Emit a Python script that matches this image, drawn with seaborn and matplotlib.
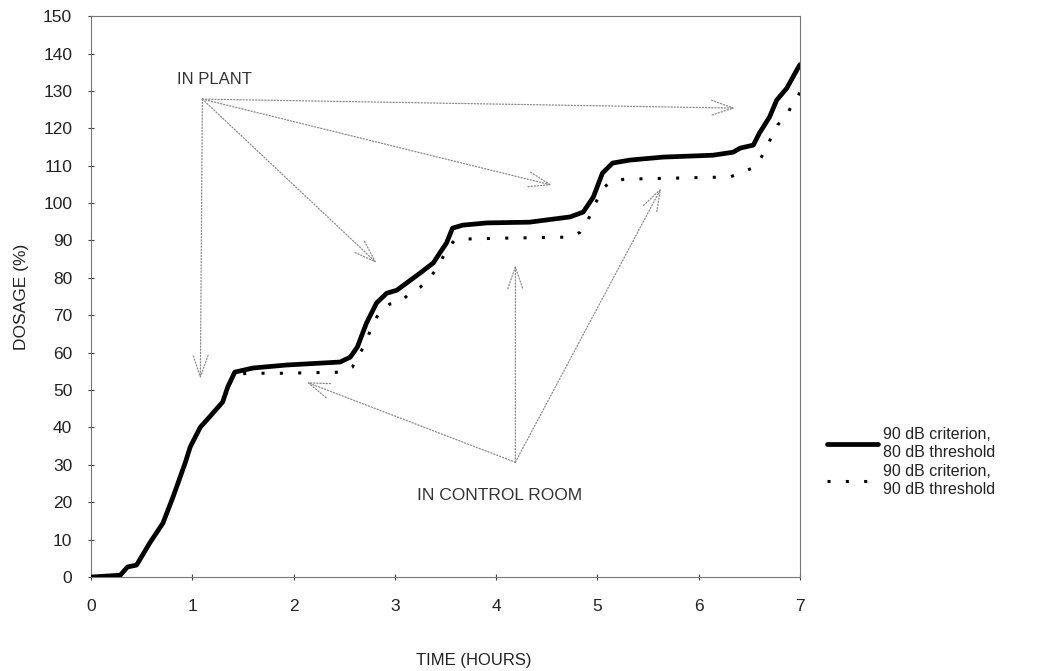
import numpy as np
import pandas as pd
import matplotlib
matplotlib.use('Agg')
import matplotlib.pyplot as plt
import seaborn as sns

# time (hours) and dosage (%)
t_80 = [0, 0.29, 0.36, 0.45, 0.58, 0.71, 0.81, 0.93, 0.98, 1.08, 1.17, 1.30, 1.35, 1.42,
        1.60, 1.93, 2.46, 2.56, 2.63, 2.72, 2.82, 2.92, 3.02, 3.25, 3.38, 3.45, 3.51, 3.57,
        3.67, 3.91, 4.33, 4.73, 4.86, 4.96, 5.05, 5.15, 5.32, 5.65, 6.14, 6.34, 6.41, 6.54,
        6.60, 6.70, 6.77, 6.87, 6.97, 7.0]
d_80 = [0, 0.5, 2.7, 3.2, 9.1, 14.4, 21.4, 30.5, 34.8, 40.1, 42.8, 46.8, 50.8, 54.8,
        55.9, 56.7, 57.5, 58.8, 61.5, 67.9, 73.3, 75.9, 76.7, 81.3, 84.0, 86.9, 89.3, 93.3,
        94.1, 94.7, 94.9, 96.3, 97.6, 101.6, 108.0, 110.7, 111.5, 112.3, 112.8, 113.6, 114.7, 115.5,
        118.7, 123.0, 127.5, 130.7, 135.6, 137.0]

t_90 = [0, 0.29, 0.36, 0.45, 0.58, 0.71, 0.81, 0.93, 0.98, 1.08, 1.17, 1.30, 1.35, 1.42,
        1.60, 1.90, 2.48, 2.58, 2.69, 2.79, 2.85, 2.95, 3.05, 3.15, 3.25, 3.33, 3.40, 3.46,
        3.51, 3.59, 3.72, 4.02, 4.73, 4.83, 4.90, 4.96, 5.00, 5.07, 5.15, 5.29, 6.31, 6.44,
        6.55, 6.62, 6.67, 6.73, 6.78, 6.87, 6.93, 7.0]
d_90 = [0, 0.5, 2.7, 3.2, 9.1, 14.4, 21.4, 30.5, 34.8, 40.1, 42.8, 46.8, 50.8, 54.3,
        54.5, 54.5, 54.8, 56.1, 61.5, 67.9, 70.9, 73.0, 73.5, 75.9, 77.5, 79.4, 82.0, 84.8,
        87.4, 90.1, 90.4, 90.6, 90.9, 92.2, 95.0, 98.7, 101.0, 104.3, 106.1, 106.4, 107.0, 108.3,
        109.6, 112.3, 115.0, 118.2, 120.9, 123.5, 126.7, 129.5]

x_ticks = [0, 1, 2, 3, 4, 5, 6, 7]
y_ticks = list(range(0, 151, 10))

label_80 = '90 dB criterion,\n80 dB threshold'
label_90 = '90 dB criterion,\n90 dB threshold'

# annotation groups: text, text position, arrow origin, arrow tips
plant_text = 'IN PLANT'
plant_text_xy = (1.22, 133.0)
plant_origin = (1.10, 127.8)
plant_tips = [(1.08, 53.0), (6.36, 125.4), (4.55, 104.8), (2.82, 84.0)]

room_text = 'IN CONTROL ROOM'
room_text_xy = (4.03, 21.9)
room_origin = (4.19, 30.7)
room_tips = [(2.13, 52.1), (4.19, 83.4), (5.63, 104.0)]

sns.set_theme(style='white')
plt.rcParams['font.family'] = ['Liberation Sans', 'DejaVu Sans']

fig = plt.figure(figsize=(10.41, 6.71), dpi=100)
ax = fig.add_axes([0.0874, 0.140, 0.681, 0.836])

df80 = pd.DataFrame({'t': t_80, 'd': d_80})
df90 = pd.DataFrame({'t': t_90, 'd': d_90})

sns.lineplot(data=df90, x='t', y='d', ax=ax, color='black', lw=2.2,
             linestyle=(0, (1, 5)), estimator=None, sort=False, label=label_90, zorder=2)
sns.lineplot(data=df80, x='t', y='d', ax=ax, color='black', lw=3.4,
             estimator=None, sort=False, label=label_80, zorder=3)

arrow_kw = dict(arrowstyle='->,head_length=1.3,head_width=0.45', color='#8a8a8a',
                lw=0.9, linestyle=(0, (1, 1.5)), shrinkA=0, shrinkB=0)
for tip in plant_tips:
    ax.annotate('', xy=tip, xytext=plant_origin, arrowprops=arrow_kw, zorder=1)
for tip in room_tips:
    ax.annotate('', xy=tip, xytext=room_origin, arrowprops=arrow_kw, zorder=1)

ax.text(*plant_text_xy, plant_text, ha='center', va='center', fontsize=12, color='#333333')
ax.text(*room_text_xy, room_text, ha='center', va='center', fontsize=12.5, color='#333333')

ax.set_xlim(0, 7)
ax.set_ylim(0, 150)
ax.set_xticks(x_ticks)
ax.set_yticks(y_ticks)
ax.tick_params(axis='both', direction='inout', length=5, width=0.8, colors='#444444',
               labelsize=12.5, labelcolor='#222222', left=True, bottom=True)
ax.tick_params(axis='x', pad=13)
ax.tick_params(axis='y', pad=11)
for s in ax.spines.values():
    s.set_color('#777777')
    s.set_linewidth(0.8)

ax.set_xlabel('TIME (HOURS)', fontsize=12, color='#222222')
ax.xaxis.set_label_coords(0.54, -0.135)
ax.set_ylabel('DOSAGE (%)', fontsize=12.5, color='#222222', labelpad=10)

handles, labels = ax.get_legend_handles_labels()
leg = ax.legend(handles[::-1], labels[::-1], loc='center left', bbox_to_anchor=(1.018, 0.205),
                frameon=False, fontsize=11.5, handlelength=3.2, labelspacing=0.3,
                handletextpad=0.3)
for t in leg.get_texts():
    t.set_color('#222222')

fig.savefig('out.png', dpi=100)
